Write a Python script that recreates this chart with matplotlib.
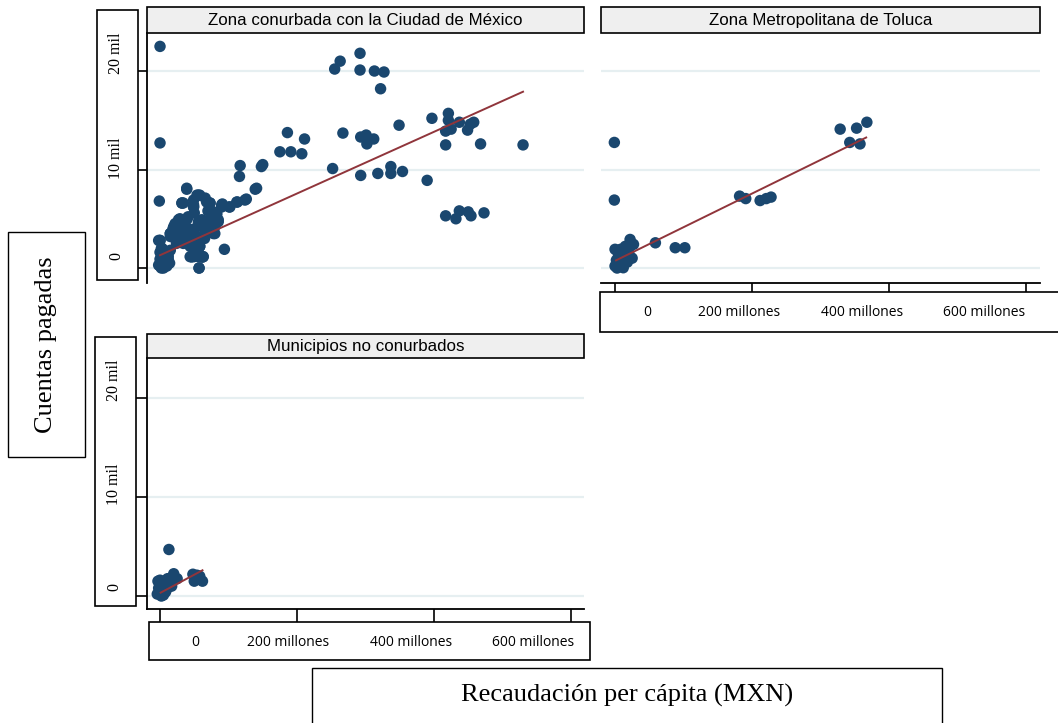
import matplotlib
matplotlib.use("Agg")
import matplotlib.pyplot as plt
from matplotlib.patches import Rectangle

# ---------------- data (x: millones MXN, y: miles de cuentas) ----------------
panel_titles = ["Zona conurbada con la Ciudad de México",
                "Zona Metropolitana de Toluca",
                "Municipios no conurbados"]
x_tick_values = [0, 200, 400, 600]
x_tick_labels = ["0", "200 millones", "400 millones", "600 millones"]
y_tick_values = [0, 10, 20]
y_tick_labels = ["0", "10 mil", "20 mil"]
x_title = "Recaudación per cápita (MXN)"
y_title = "Cuentas pagadas"

cdmx_x = [0, 0, -1, 0, 255, 263, 292, 292, 313, 327, 322, 349, 397, 421, 421, 417, 425,
          437, 449, 453, 458, 417, 468, 530, 267, 293, 301, 302, 312, 186, 211, 175, 191,
          207, 252, 293, 318, 337, 337, 354, 390, 417, 432, 437, 450, 454, 473, 117, 116,
          150, 148, 141, 126, 113, 101, 91, 94, 57, 39, 34, 49, 56, 66, 73, 78, 85, 90,
          102, 112, 124, 139, 29, 19, 34, 44, 56, 68, 80, 0, 15, 24, 41, 58, 56, 49, 63,
          44, 57, 3, 15, 22, 29, 39, 44, 24, 34, 44, 54, 58, 46, 63, 56, 68, 73, 83, 85,
          71, 32, 49, 58, 49, 0, 1, 2, 3, 4, 5, 6, 8, 10, 0, 2, 7, 12, 14, 5, 0, 9, 15,
          39, 54, 32, 49, 73, 90, 27, 41, 61, 75, 80, 78, 15, 24, 36, 51, 66, 24, 41, 56,
          46, 61, 54, -2, -2, 2, 6, 10, 12, 35, 60, 70, 30, 45, 20, 65, 50]
cdmx_y = [22.5, 12.7, 6.8, 2.8, 20.2, 21.0, 21.8, 20.1, 20.0, 19.9, 18.2, 14.5, 15.2, 15.7,
          15.0, 13.9, 14.1, 14.8, 14.0, 14.6, 14.8, 12.5, 12.6, 12.5, 13.7, 13.3, 13.5, 12.6,
          13.1, 13.75, 13.1, 11.8, 11.8, 11.6, 10.1, 9.4, 9.6, 10.3, 9.6, 9.8, 8.9, 5.3, 5.0,
          5.8, 5.7, 5.3, 5.6, 10.4, 9.3, 10.5, 10.3, 8.1, 7.0, 6.7, 6.2, 6.5, 1.9, 0.0, 8.0,
          6.6, 6.4, 7.4, 7.1, 6.6, 5.7, 4.9, 6.4, 6.2, 6.7, 6.9, 8.0, 4.7, 4.0, 3.9, 3.5, 4.7,
          3.9, 3.5, 2.8, 3.2, 2.5, 2.7, 2.2, 1.15, 1.15, 1.15, 1.15, 0.0, 2.0, 3.5, 4.5, 5.0,
          4.9, 3.9, 2.8, 2.5, 2.2, 3.2, 2.2, 1.15, 1.15, 2.0, 6.7, 5.9, 5.5, 4.7, 4.5, 6.6,
          6.2, 7.4, 6.9, 0.2, 0.5, 0.9, 1.3, 0.1, 0.6, 1.0, 0.3, 0.8, 1.6, 2.0, 1.7, 1.2, 0.5,
          0.0, 0.9, 1.5, 1.8,
          8.1, 7.4, 6.6, 6.2, 6.6, 6.2, 4.9, 5.2, 4.9, 5.2, 4.2, 3.5, 3.5, 3.5, 3.9, 4.0,
          3.7, 2.7, 2.7, 2.7, 1.15, 1.1, 2.0, 2.8, 0.3, 0.0, 0.6, 0.2, 0.9, 4.4, 4.3, 5.8,
          3.0, 3.3, 4.2, 3.0, 5.6]
cdmx_fit_x = [0, 530]
cdmx_fit_y = [1.3, 17.9]

toluca_x = [-1, -1, 329, 353, 368, 343, 358, 182, 191, 212, 221, 228, 59, 88, 102, 22, 17,
            19, 0, 2, 5, 8, 12, 15, 20, 25, 27, 0, 3, 10, 6, 14, 18, 12]
toluca_y = [12.75, 6.9, 14.1, 14.2, 14.8, 12.75, 12.6, 7.3, 7.05, 6.85, 7.05, 7.2, 2.56,
            2.06, 2.06, 2.9, 2.06, 1.05, 0.2, 0.8, 1.4, 1.9, 1.2, 2.2, 1.6, 1.0, 2.4, 1.9,
            0.0, 0.5, 1.0, 1.5, 0.6, 0.03]
toluca_fit_x = [1.5, 367]
toluca_fit_y = [0.78, 13.25]

nocon_x = [13, 20, 25, 11, 54, 62, 50, -4, -2, 0, 2, 4, 6, 8, 10, 12, 14, 16, -3, 1, 5, 9,
           0, 3, 7, 17, 58, 48]
nocon_y = [4.7, 2.25, 1.75, 1.75, 2.1, 1.5, 1.5, 0.2, 0.8, 1.3, 0.0, 0.5, 1.0, 0.4, 1.4,
           0.9, 1.6, 1.2, 1.5, 0.3, 0.1, 0.6, 1.6, 1.1, 1.5, 1.0, 2.0, 2.2]
nocon_fit_x = [1, 62]
nocon_fit_y = [0.34, 2.6]

# ---------------- style ----------------
W, H = 1058, 723
MARK = "#1a476f"
FIT = "#90353b"
GRID = "#e6eff1"
STRIP = "#efefef"
SANS = "Liberation Sans"
SERIF = "Liberation Serif"
TICKF = "Open Sans"

fig = plt.figure(figsize=(W / 100, H / 100), dpi=100)


def fbox(x0, y0, x1, y1):
    return [x0 / W, 1 - y1 / H, (x1 - x0) / W, (y1 - y0) / H]


def rect(x0, y0, x1, y1, fc="white", lw=1.0):
    fig.patches.append(Rectangle((x0 / W, 1 - y1 / H), (x1 - x0) / W, (y1 - y0) / H,
                                 transform=fig.transFigure, fc=fc, ec="black", lw=lw,
                                 zorder=5))


def ftext(x, y, s, **kw):
    fig.text(x / W, 1 - y / H, s, ha="center", va="center", zorder=6, **kw)


def panel(box, xs, ys, fx, fy, ylim, left_spine, bottom_spine, xlim):
    ax = fig.add_axes(fbox(*box))
    ax.set_facecolor("white")
    for s in ax.spines.values():
        s.set_visible(False)
    ax.set_xlim(*xlim)
    ax.set_ylim(*ylim)
    for v in y_tick_values:
        ax.axhline(v, color=GRID, lw=1.6, zorder=0)
    ax.scatter(xs, ys, s=68, color=MARK, edgecolors="none", zorder=2, clip_on=False)
    ax.plot(fx, fy, color=FIT, lw=1.4, zorder=3)
    if left_spine:
        ax.spines["left"].set_visible(True)
        ax.spines["left"].set_linewidth(1.3)
        ax.set_yticks(y_tick_values)
        ax.set_yticklabels([])
        ax.tick_params(axis="y", length=9, width=1.2, direction="out")
    else:
        ax.set_yticks([])
    if bottom_spine:
        ax.spines["bottom"].set_visible(True)
        ax.spines["bottom"].set_linewidth(1.3)
        ax.set_xticks(x_tick_values)
        ax.set_xticklabels([])
        ax.tick_params(axis="x", length=9, width=1.2, direction="out")
    else:
        ax.set_xticks([])
    return ax


# panels
panel((147, 33, 584, 283), cdmx_x, cdmx_y, cdmx_fit_x, cdmx_fit_y,
      (-1.52, 23.86), True, False, (-19, 619))
panel((601, 33, 1040, 283), toluca_x, toluca_y, toluca_fit_x, toluca_fit_y,
      (-1.52, 23.86), False, True, (-20.5, 621))
panel((147, 358, 584, 609), nocon_x, nocon_y, nocon_fit_x, nocon_fit_y,
      (-1.31, 24.04), True, True, (-19, 619))

# strip titles
for (x0, y0, x1, y1), t in zip([(147, 7, 584, 33), (601, 7, 1040, 33),
                                (147, 334, 584, 358)], panel_titles):
    rect(x0, y0, x1, y1, fc=STRIP, lw=1.2)
    ftext((x0 + x1) / 2, (y0 + y1) / 2 + 0.5, t, fontsize=12.2, family=SANS)

# y tick label boxes
for (x0, y0, x1, y1), ypos in [((97, 10, 138, 280), [256, 158, 53]),
                               ((95, 337, 136, 606), [587, 484, 380])]:
    rect(x0, y0, x1, y1, lw=1.2)
    for lab, yy in zip(y_tick_labels, ypos):
        ftext((x0 + x1) / 2 - 1, yy, lab, fontsize=11.5, family=SERIF, rotation=90)

# x tick label boxes
for (x0, y0, x1, y1), xpos, ly in [((600, 292, 1062, 332), [647, 739, 862, 984], 313),
                                   ((149, 622, 590, 660), [195, 288, 411, 533], 643)]:
    rect(x0, y0, x1, y1, lw=1.2)
    for lab, xx in zip(x_tick_labels, xpos):
        ftext(xx, ly, lab, fontsize=10, family=TICKF)

# axis titles
rect(8, 232, 85, 457, lw=1.0)
ftext(46, 345, y_title, fontsize=19, family=SERIF, rotation=90)
rect(312, 668, 942, 740, lw=1.0)
ftext(627, 695, x_title, fontsize=19, family=SERIF)

fig.savefig("out.png", dpi=100)
